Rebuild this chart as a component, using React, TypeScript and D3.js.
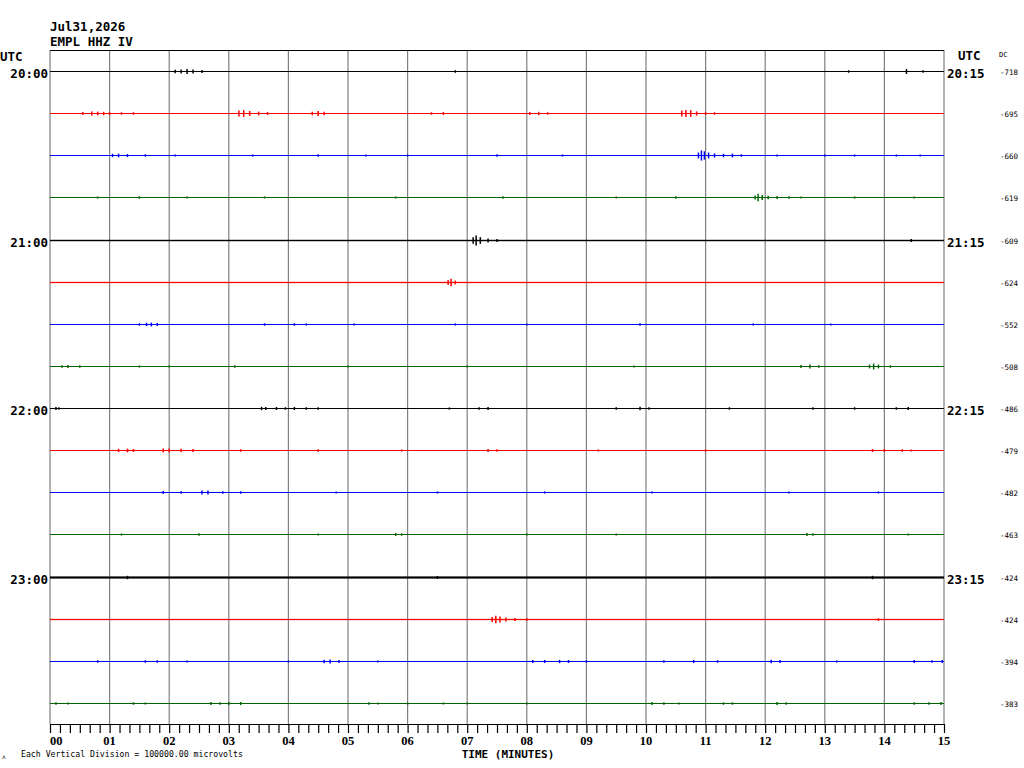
import React, { useEffect, useRef } from 'react';
import * as d3 from 'd3';

// helicorder header
const dateLabel = "Jul31,2026";
const stationLabel = "EMPL HHZ IV";
const scaleNote = "Each Vertical Division = 100000.00 microvolts";

// one trace per 15 minutes, colours cycle per line
const traceColors = ["#000000", "#ff0000", "#0000ff", "#006400"];
const leftLabels = ["20:00", "", "", "", "21:00", "", "", "", "22:00", "", "", "", "23:00", "", "", ""];
const rightLabels = ["20:15", "", "", "", "21:15", "", "", "", "22:15", "", "", "", "23:15", "", "", ""];
const dcValues = [-718, -695, -660, -619, -609, -624, -552, -508, -486, -479, -482, -463, -424, -424, -394, -383];

// background noise half-amplitude per trace, microvolts
const noiseLevels = [0, 0, 400, 700, 1700, 1500, 800, 300, 0, 300, 600, 400, 2600, 1500, 500, 300];

// [minute, half-amplitude in microvolts] for the visible wiggles on each trace
const spikes: number[][][] = [
  [[2.1, 4000], [2.2, 5000], [2.3, 6000], [2.4, 4500], [2.55, 3500], [6.8, 3000], [13.4, 3000], [14.37, 6000], [14.65, 3000]],
  [[0.55, 3500], [0.7, 5000], [0.8, 4500], [0.9, 4000], [1.0, 3500], [1.2, 3000], [1.4, 3000],
    [3.17, 7000], [3.25, 8000], [3.35, 6000], [3.5, 4500], [3.65, 3500],
    [4.4, 4000], [4.5, 6000], [4.6, 4000], [6.4, 3000], [6.6, 3500],
    [8.05, 3500], [8.2, 4000], [8.35, 3000],
    [10.6, 7000], [10.67, 8500], [10.75, 8000], [10.85, 5000], [11.0, 3500], [11.15, 3000]],
  [[1.05, 4000], [1.15, 4500], [1.3, 3500], [1.6, 3000], [2.1, 2500], [3.4, 2500], [4.5, 3000], [5.3, 2500],
    [6.0, 2500], [7.5, 3000], [8.6, 2500],
    [10.88, 7000], [10.93, 12000], [10.98, 10000], [11.05, 7000], [11.15, 5000], [11.3, 4000], [11.45, 4500],
    [11.6, 3000], [12.2, 2500], [13.0, 2500], [13.5, 2500], [14.2, 2500], [14.6, 2500]],
  [[0.8, 2500], [1.5, 3000], [2.3, 2500], [3.6, 2500], [5.8, 2500], [7.6, 3000], [9.5, 2500], [10.5, 3000],
    [11.83, 5000], [11.88, 9000], [11.95, 6000], [12.05, 4000], [12.2, 3500], [12.4, 3000], [12.6, 2500],
    [13.5, 2500], [14.5, 2500]],
  [[7.1, 8000], [7.15, 12000], [7.22, 8000], [7.35, 4500], [7.5, 3500], [14.45, 3500]],
  [[6.68, 6000], [6.73, 9000], [6.8, 4500]],
  [[1.5, 3000], [1.62, 4000], [1.7, 4500], [1.8, 3500], [3.6, 3000], [4.1, 3000], [4.3, 2500], [5.1, 2500],
    [6.8, 2500], [8.0, 2500], [9.9, 3000], [11.8, 2500], [13.1, 2500]],
  [[0.2, 3000], [0.3, 3500], [0.5, 3000], [1.5, 2500], [2.0, 2500], [3.1, 3000], [5.0, 2500], [7.0, 2500],
    [9.8, 2500], [12.6, 3500], [12.75, 4500], [12.9, 3000], [13.75, 4500], [13.82, 7000], [13.9, 4500], [14.1, 3000]],
  [[0.1, 3500], [0.15, 3000], [3.55, 4000], [3.62, 3500], [3.8, 3500], [3.95, 3000], [4.1, 3500], [4.3, 3000],
    [4.5, 3000], [6.7, 2500], [7.2, 3000], [7.35, 3500], [9.5, 3000], [9.9, 4000], [10.05, 3000],
    [11.4, 3000], [12.8, 3000], [13.5, 3000], [14.2, 3000], [14.4, 3500]],
  [[1.15, 4000], [1.3, 4500], [1.4, 3500], [1.9, 4500], [2.0, 5000], [2.2, 4000], [2.4, 3500], [3.2, 3000],
    [4.5, 3000], [5.9, 2500], [7.35, 3500], [7.5, 3000], [9.2, 2500], [11.0, 3000],
    [13.8, 3500], [14.0, 3500], [14.3, 3000], [14.45, 2500]],
  [[1.9, 3500], [2.2, 3000], [2.55, 5000], [2.65, 4500], [2.9, 3000], [3.2, 3000], [4.8, 2500], [6.5, 2500],
    [8.3, 2500], [10.1, 2500], [12.4, 2500], [13.9, 2500]],
  [[1.2, 2500], [2.5, 3000], [4.5, 2500], [5.8, 3500], [5.9, 3000], [8.0, 2500], [9.5, 2500],
    [12.7, 3500], [12.8, 3000], [14.4, 2500]],
  [[1.3, 4000], [6.5, 3500], [13.8, 4000]],
  [[7.42, 6000], [7.48, 9000], [7.55, 7000], [7.65, 4500], [7.8, 3500], [8.0, 3000], [13.9, 3000]],
  [[0.8, 3000], [1.6, 3000], [1.8, 3000], [2.3, 2500], [4.0, 2500], [4.6, 4000], [4.7, 4500], [4.85, 3500],
    [5.5, 2500], [8.1, 3500], [8.3, 3500], [8.55, 4000], [8.7, 3500], [9.0, 3000], [10.3, 3000],
    [10.8, 3500], [11.2, 3000], [12.1, 4000], [12.25, 3500], [13.2, 2500], [14.5, 3500], [14.8, 3000], [14.97, 3500]],
  [[0.1, 3000], [0.3, 2500], [1.4, 3000], [1.6, 2500], [2.7, 3500], [2.85, 3000], [3.0, 3500], [3.2, 3500],
    [5.35, 3000], [5.5, 2500], [6.0, 2500], [6.6, 2500], [7.0, 2500], [8.0, 2500], [10.1, 3500],
    [10.3, 3000], [10.55, 2500], [11.3, 3000], [11.45, 3000], [12.2, 3500], [12.35, 3000],
    [14.5, 3000], [14.75, 3000], [14.95, 3500]],
];

const minuteLabels = ["00", "01", "02", "03", "04", "05", "06", "07", "08", "09", "10", "11", "12", "13", "14", "15"];

const mono = "'DejaVu Sans Mono', monospace";
const serif = "'Liberation Serif', serif";

export default function App() {
  const svgRef = useRef<SVGSVGElement | null>(null);

  useEffect(() => {
    if (!svgRef.current) return;
    const svg = d3.select(svgRef.current);
    svg.selectAll("*").remove();

    const left = 50, right = 944, top = 50, bottom = 724;
    const rows = dcValues.length;

    const x = d3.scaleLinear().domain([0, 15]).range([left, right]);
    const y = d3.scaleLinear().domain([0, rows]).range([top, bottom]);
    const rowH = (bottom - top) / rows;
    const amp = d3.scaleLinear().domain([0, 100000]).range([0, rowH]);

    svg.append("rect").attr("width", 1024).attr("height", 768).attr("fill", "#fff");

    // vertical minute grid
    svg.append("g").selectAll("line")
      .data(minuteLabels.map((_, i) => i))
      .enter().append("line")
      .attr("x1", d => x(d)).attr("x2", d => x(d))
      .attr("y1", top).attr("y2", bottom)
      .attr("stroke", "#808080").attr("stroke-width", 1.2);

    // top border
    svg.append("line")
      .attr("x1", left).attr("x2", right).attr("y1", top + 0.5).attr("y2", top + 0.5)
      .attr("stroke", "#000").attr("stroke-width", 1);

    // traces
    const traces = svg.append("g");
    dcValues.forEach((dc, i) => {
      const cy = Math.round(y(i + 0.5)) + 0.5;
      const color = traceColors[i % traceColors.length];
      const g = traces.append("g");
      if (noiseLevels[i] > 0) {
        const h = amp(noiseLevels[i]);
        g.append("rect")
          .attr("x", left).attr("width", right - left)
          .attr("y", cy - h).attr("height", 2 * h)
          .attr("fill", color);
      }
      g.append("line")
        .attr("x1", left).attr("x2", right).attr("y1", cy).attr("y2", cy)
        .attr("stroke", color).attr("stroke-width", 1.1);
      g.selectAll("line.spike")
        .data(spikes[i])
        .enter().append("line")
        .attr("class", "spike")
        .attr("x1", d => x(d[0])).attr("x2", d => x(d[0]))
        .attr("y1", d => cy - amp(d[1])).attr("y2", d => cy + amp(d[1]))
        .attr("stroke", color).attr("stroke-width", 1.5);

      if (leftLabels[i]) {
        svg.append("text").attr("x", 48).attr("y", cy + 6)
          .attr("text-anchor", "end").attr("font-family", mono).attr("font-weight", "bold")
          .attr("font-size", 12.5).text(leftLabels[i]);
      }
      if (rightLabels[i]) {
        svg.append("text").attr("x", 947).attr("y", cy + 6)
          .attr("font-family", mono).attr("font-weight", "bold")
          .attr("font-size", 12.5).text(rightLabels[i]);
      }
      svg.append("text").attr("x", 1000).attr("y", cy + 3)
        .attr("font-family", mono).attr("font-size", 7.5).text(String(dc));
    });

    // bottom axis with 10 s ticks
    const axis = d3.axisBottom(x)
      .tickValues(d3.range(0, 15 * 6 + 1).map(k => k / 6))
      .tickSizeInner(9).tickSizeOuter(0)
      .tickFormat(() => "");
    const ax = svg.append("g").attr("transform", `translate(0,${bottom})`).call(axis);
    ax.select(".domain").attr("stroke", "#000").attr("stroke-width", 1.2);
    ax.selectAll(".tick line").attr("stroke", "#000").attr("stroke-width", 1.2);

    svg.append("g").selectAll("text")
      .data(minuteLabels)
      .enter().append("text")
      .attr("x", (_, i) => x(i))
      .attr("y", 745)
      .attr("text-anchor", (_, i) => (i === 0 ? "start" : "middle"))
      .attr("font-family", serif).attr("font-weight", "bold").attr("font-size", 12.5)
      .text(d => d);

    // titles and notes
    const addText = (tx: number, ty: number, s: string, size: number, bold: boolean, anchor = "start") =>
      svg.append("text").attr("x", tx).attr("y", ty).attr("text-anchor", anchor)
        .attr("font-family", mono).attr("font-weight", bold ? "bold" : "normal")
        .attr("font-size", size).text(s);

    addText(50, 31, dateLabel, 12.5, true);
    addText(50, 46, stationLabel, 12.5, true);
    addText(0, 61, "UTC", 12.5, true);
    addText(958, 60, "UTC", 12.5, true);
    addText(999, 57, "DC", 7, false);
    addText(508, 758, "TIME (MINUTES)", 11, true, "middle");
    addText(21, 757, scaleNote, 8.2, false);
    addText(2, 759, "ʌ", 6, false);
  }, []);

  return (
    <svg ref={svgRef} width={1024} height={768}
      style={{ position: "absolute", left: 0, top: 0 }} />
  );
}
